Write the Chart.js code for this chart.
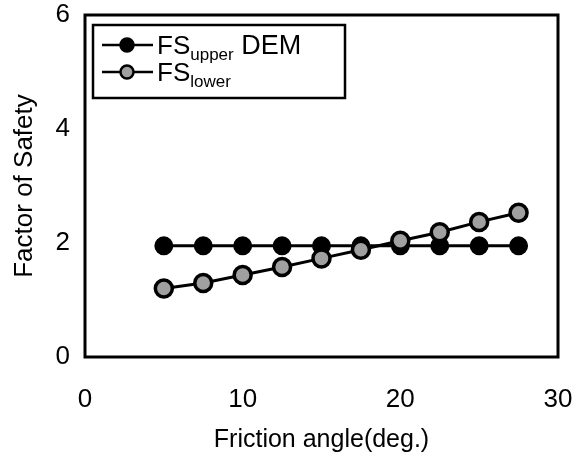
<!DOCTYPE html>
<html>
<head>
<meta charset="utf-8">
<script src="https://cdn.jsdelivr.net/npm/chart.js@4/dist/chart.umd.min.js"></script>
<style>
  html, body { margin: 0; padding: 0; background: #fff; }
  #chart_fs { display: block; }
</style>
</head>
<body>
<canvas id="chart_fs" width="577" height="458"></canvas>
<script>
// friction angle (deg.)
var friction_angle = [5, 7.5, 10, 12.5, 15, 17.5, 20, 22.5, 25, 27.5]
// factor of safety, upper bound (DEM)
var fs_upper = [1.95, 1.95, 1.95, 1.95, 1.95, 1.95, 1.95, 1.95, 1.95, 1.95]
// factor of safety, lower bound
var fs_lower = [1.2, 1.3, 1.44, 1.58, 1.73, 1.88, 2.04, 2.19, 2.37, 2.53]

var x_ticks = [0, 10, 20, 30]
var y_ticks = [0, 2, 4, 6]

var FONT = '"Liberation Sans", Arial, Helvetica, sans-serif'

function to_points(xs, ys) {
    return xs.map((x, i) => ({ x: x, y: ys[i] }))
}

// plot frame (all four sides)
var frame_plugin = {
    id: 'frame',
    beforeDatasetsDraw: function (chart) {
        const a = chart.chartArea
        const ctx = chart.ctx
        ctx.save()
        ctx.strokeStyle = '#000'
        ctx.lineWidth = 3
        ctx.strokeRect(a.left, a.top, a.right - a.left, a.bottom - a.top)
        ctx.restore()
    }
}

// legend with subscripts
var legend_plugin = {
    id: 'fs_legend',
    afterDraw: function (chart) {
        const a = chart.chartArea
        const ctx = chart.ctx
        const bx = a.left + 8
        const by = a.top + 10
        ctx.save()
        ctx.fillStyle = '#fff'
        ctx.fillRect(bx, by, 252, 73)
        ctx.strokeStyle = '#000'
        ctx.lineWidth = 2.5
        ctx.strokeRect(bx, by, 252, 73)

        const rows = [
            { sub: 'upper', extra: ' DEM', fill: '#000', cy: by + 20 },
            { sub: 'lower', extra: '', fill: '#a0a0a0', cy: by + 47 }
        ]
        rows.forEach((r) => {
            ctx.strokeStyle = '#000'
            ctx.lineWidth = 2.5
            ctx.beginPath()
            ctx.moveTo(bx + 9, r.cy)
            ctx.lineTo(bx + 60, r.cy)
            ctx.stroke()
            ctx.beginPath()
            ctx.arc(bx + 34, r.cy, 6.5, 0, Math.PI * 2)
            ctx.fillStyle = r.fill
            ctx.fill()
            ctx.lineWidth = 2.5
            ctx.stroke()

            ctx.fillStyle = '#000'
            ctx.textBaseline = 'alphabetic'
            ctx.textAlign = 'left'
            let tx = bx + 64
            ctx.font = '26px ' + FONT
            ctx.fillText('FS', tx, r.cy + 9)
            tx += ctx.measureText('FS').width
            ctx.font = '17px ' + FONT
            ctx.fillText(r.sub, tx, r.cy + 15)
            tx += ctx.measureText(r.sub).width
            if (r.extra) {
                ctx.font = '27px ' + FONT
                ctx.fillText(r.extra, tx, r.cy + 9)
            }
        })
        ctx.restore()
    }
}

var chart_fs = new Chart(document.getElementById('chart_fs'), {
    type: 'line',
    data: {
        datasets: [
            {
                label: 'FS upper DEM',
                data: to_points(friction_angle, fs_upper),
                borderColor: '#000',
                borderWidth: 3,
                pointBackgroundColor: '#000',
                pointBorderColor: '#000',
                pointBorderWidth: 2,
                pointRadius: 8.5,
                tension: 0,
                order: 1
            },
            {
                label: 'FS lower',
                data: to_points(friction_angle, fs_lower),
                borderColor: '#000',
                borderWidth: 3,
                pointBackgroundColor: '#a0a0a0',
                pointBorderColor: '#000',
                pointBorderWidth: 3.5,
                pointRadius: 8.5,
                tension: 0,
                order: 0
            }
        ]
    },
    options: {
        responsive: false,
        animation: false,
        layout: {
            padding: 0
        },
        scales: {
            x: {
                type: 'linear',
                min: 0,
                max: 30,
                afterBuildTicks: function (scale) {
                    scale.ticks = x_ticks.map((v) => ({ value: v }))
                },
                afterFit: function (scale) {
                    scale.height = 101
                    scale.paddingLeft = 0
                    scale.paddingRight = 19
                },
                grid: { display: false, drawTicks: false },
                border: { display: false },
                ticks: {
                    color: '#000',
                    padding: 27,
                    maxRotation: 0,
                    font: { family: FONT, size: 26 }
                },
                title: {
                    display: true,
                    text: 'Friction angle(deg.)',
                    color: '#000',
                    font: { family: FONT, size: 25 },
                    padding: { top: 0, bottom: 3 }
                }
            },
            y: {
                type: 'linear',
                min: 0,
                max: 6,
                afterBuildTicks: function (scale) {
                    scale.ticks = y_ticks.map((v) => ({ value: v }))
                },
                afterFit: function (scale) {
                    scale.width = 85
                    scale.paddingTop = 15
                    scale.paddingBottom = 0
                },
                grid: { display: false, drawTicks: false },
                border: { display: false },
                ticks: {
                    color: '#000',
                    padding: 15,
                    font: { family: FONT, size: 26 }
                },
                title: {
                    display: true,
                    text: 'Factor of Safety',
                    color: '#000',
                    font: { family: FONT, size: 26 },
                    padding: { top: 9, bottom: 0 }
                }
            }
        },
        plugins: {
            legend: { display: false },
            tooltip: { enabled: false }
        }
    },
    plugins: [frame_plugin, legend_plugin]
})
</script>
</body>
</html>
